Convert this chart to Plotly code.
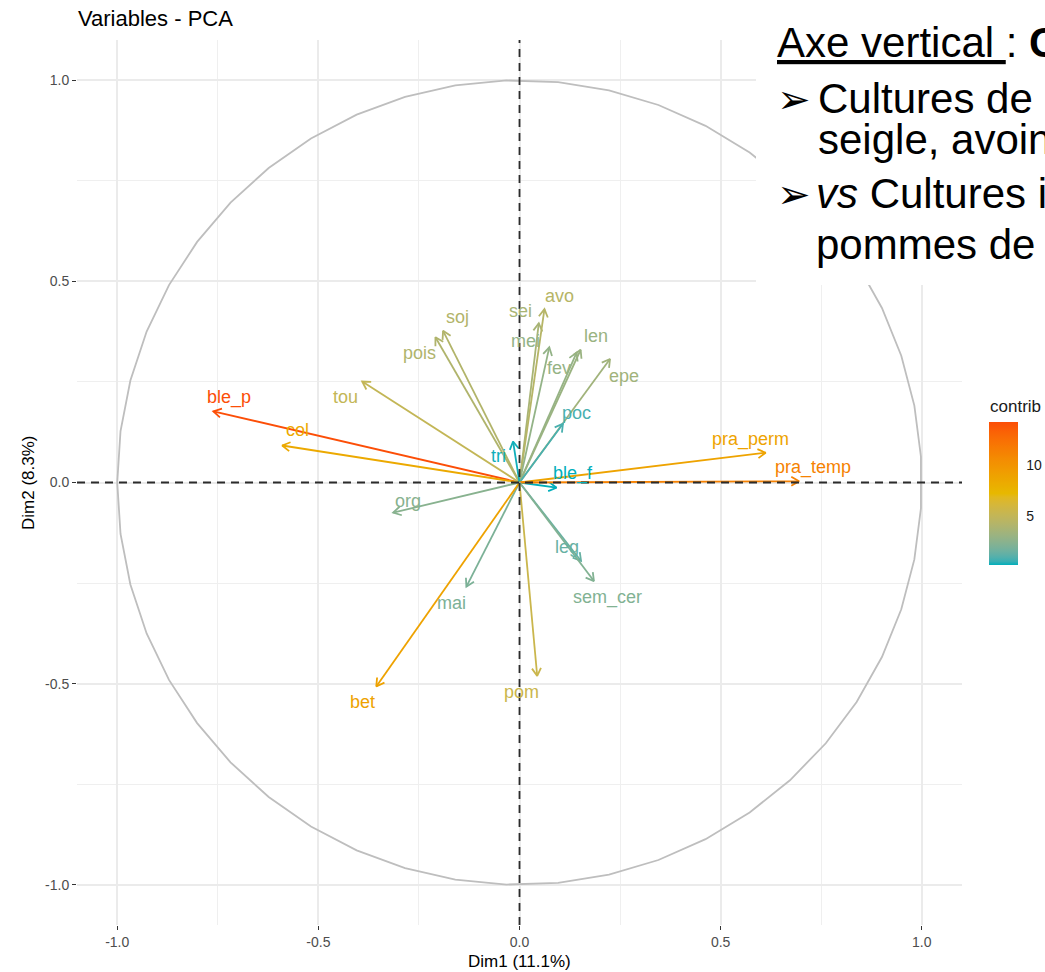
import math
import plotly.graph_objects as go

# ---- PCA variable coordinates (Dim1, Dim2) and contribution ----
variables = ["ble_p", "col", "tou", "pois", "soj", "sei", "avo", "mei", "fev", "len",
             "epe", "poc", "tri", "ble_f", "pra_perm", "pra_temp", "org", "mai",
             "bet", "pom", "leg", "sem_cer"]
dim1 = [-0.761, -0.590, -0.391, -0.209, -0.190, 0.048, 0.062, 0.074, 0.142, 0.152,
        0.225, 0.108, -0.016, 0.092, 0.612, 0.695, -0.314, -0.132,
        -0.356, 0.044, 0.153, 0.185]
dim2 = [0.177, 0.092, 0.251, 0.361, 0.377, 0.396, 0.431, 0.336, 0.323, 0.330,
        0.307, 0.146, 0.102, -0.013, 0.074, 0.003, -0.075, -0.259,
        -0.507, -0.481, -0.195, -0.245]
contrib = [14.3, 8.4, 5.1, 4.1, 4.2, 3.7, 4.4, 2.8, 2.9, 3.1,
           3.4, 0.8, 0.25, 0.2, 8.9, 11.3, 2.4, 2.0,
           9.0, 5.5, 1.4, 2.2]

axis_ticks = [-1.0, -0.5, 0.0, 0.5, 1.0]
axis_ticktext = ["-1.0", "-0.5", "0.0", "0.5", "1.0"]
legend_ticks = [5, 10]
gradient_cols = ["#00AFBB", "#E7B800", "#FC4E07"]

# label placement (pixel offsets from arrow tips, as produced by the repel layout)
label_dx = [16, 15, -17, -16, 14, -18, 15, -24, -18, 15, 14, 14, -15, 16, -15, 14, 15, -15, -14, -16, -14, 14]
label_dy = [-14, -15, 15, 16, -14, -12, -13, -6, 15, -14, 17, -11, 15, -14, -13, -14, -12, 16, 16, 16, -14, 16]

# ---- figure geometry ----
W, H = 1045, 972
ML, MR, MT, MB = 77, 83, 40, 47
PW, PH = W - ML - MR, H - MT - MB
RNG = 1.1
PX_PER_UNIT = PW / (2 * RNG)


def px_x(px):
    return (px - ML) / PW


def px_y(py):
    return (H - MB - py) / PH


# ---- colour interpolation in CIE Lab (as ggplot's gradientn) ----
def _hex_rgb(h):
    h = h.lstrip("#")
    return [int(h[i:i + 2], 16) / 255 for i in (0, 2, 4)]


def _to_lin(c):
    return c / 12.92 if c <= 0.04045 else ((c + 0.055) / 1.055) ** 2.4


def _from_lin(c):
    v = 12.92 * c if c <= 0.0031308 else 1.055 * c ** (1 / 2.4) - 0.055
    return min(1.0, max(0.0, v))


WX, WY, WZ = 0.95047, 1.0, 1.08883


def _f(t):
    return t ** (1 / 3) if t > 0.008856 else 7.787 * t + 16 / 116


def _finv(t):
    return t ** 3 if t ** 3 > 0.008856 else (t - 16 / 116) / 7.787


def hex_to_lab(h):
    r, g, b = [_to_lin(c) for c in _hex_rgb(h)]
    x = 0.4124 * r + 0.3576 * g + 0.1805 * b
    y = 0.2126 * r + 0.7152 * g + 0.0722 * b
    z = 0.0193 * r + 0.1192 * g + 0.9505 * b
    fx, fy, fz = _f(x / WX), _f(y / WY), _f(z / WZ)
    return (116 * fy - 16, 500 * (fx - fy), 200 * (fy - fz))


def lab_to_hex(lab):
    L, a, bb = lab
    fy = (L + 16) / 116
    fx = fy + a / 500
    fz = fy - bb / 200
    x, y, z = WX * _finv(fx), WY * _finv(fy), WZ * _finv(fz)
    r = 3.2406 * x - 1.5372 * y - 0.4986 * z
    g = -0.9689 * x + 1.8758 * y + 0.0415 * z
    b = 0.0557 * x - 0.2040 * y + 1.0570 * z
    return "#%02x%02x%02x" % tuple(round(_from_lin(c) * 255) for c in (r, g, b))


LABS = [hex_to_lab(c) for c in gradient_cols]


def grad_color(t):
    t = min(1.0, max(0.0, t))
    seg = min(int(t * 2), 1)
    u = t * 2 - seg
    a, b = LABS[seg], LABS[seg + 1]
    return lab_to_hex(tuple(a[i] + (b[i] - a[i]) * u for i in range(3)))


cmin, cmax = min(contrib), max(contrib)
colorscale = [[i / 40, grad_color(i / 40)] for i in range(41)]

FONT = "Liberation Sans, Arial, sans-serif"

fig = go.Figure()

# correlation circle (50-vertex polygon)
n_circ = 50
theta = [-math.pi + 2 * math.pi * k / (n_circ - 1) for k in range(n_circ)]
fig.add_trace(go.Scatter(
    x=[math.cos(t) for t in theta], y=[math.sin(t) for t in theta],
    mode="lines", line=dict(color="#BEBEBE", width=1.8),
    hoverinfo="skip", showlegend=False))

# arrows with open heads
head_len = 9 / PX_PER_UNIT
head_ang = math.radians(30)
annotations = []
for name, x, y, c, dx, dy in zip(variables, dim1, dim2, contrib, label_dx, label_dy):
    col = grad_color((c - cmin) / (cmax - cmin))
    ang = math.atan2(y, x)
    h1 = (x - head_len * math.cos(ang + head_ang), y - head_len * math.sin(ang + head_ang))
    h2 = (x - head_len * math.cos(ang - head_ang), y - head_len * math.sin(ang - head_ang))
    fig.add_trace(go.Scatter(
        x=[0, x, None, h1[0], x, h2[0]],
        y=[0, y, None, h1[1], y, h2[1]],
        mode="lines", line=dict(color=col, width=1.8),
        hoverinfo="skip", showlegend=False))
    annotations.append(dict(
        x=x, y=y, xref="x", yref="y", text=name, showarrow=False,
        xshift=dx, yshift=-dy, xanchor="center", yanchor="middle",
        font=dict(family=FONT, size=18, color=col)))

# colour scale legend
fig.add_trace(go.Scatter(
    x=dim1, y=dim2, mode="markers", hoverinfo="skip", showlegend=False,
    marker=dict(size=1, opacity=0, color=contrib, cmin=cmin, cmax=cmax,
                colorscale=colorscale, showscale=True,
                colorbar=dict(
                    xref="container", yref="container",
                    x=989 / W, xanchor="left", y=1 - 463 / H, yanchor="top",
                    thickness=29, thicknessmode="pixels",
                    len=143, lenmode="pixels",
                    xpad=0, ypad=0, outlinewidth=0,
                    tickvals=legend_ticks, ticktext=[str(v) for v in legend_ticks],
                    ticks="outside", ticklen=6, tickcolor="white", tickwidth=1,
                    tickfont=dict(family=FONT, size=14, color="#1a1a1a")))))

annotations.append(dict(
    x=px_x(988), y=px_y(406), xref="paper", yref="paper", text="contrib", showarrow=False,
    xanchor="left", yanchor="middle",
    font=dict(family=FONT, size=17, color="#1a1a1a")))

# axis titles and plot title
annotations.append(dict(
    x=0.5, y=px_y(961), xref="paper", yref="paper", text="Dim1 (11.1%)", showarrow=False,
    xanchor="center", yanchor="middle",
    font=dict(family=FONT, size=17, color="#000000")))
annotations.append(dict(
    x=px_x(28), y=px_y(483), xref="paper", yref="paper", text="Dim2 (8.3%)", showarrow=False,
    xanchor="center", yanchor="middle", textangle=-90,
    font=dict(family=FONT, size=17, color="#000000")))
annotations.append(dict(
    x=px_x(76), y=px_y(18), xref="paper", yref="paper", text="Variables - PCA", showarrow=False,
    xanchor="left", yanchor="middle",
    font=dict(family=FONT, size=22, color="#000000")))

# text panel laid over the upper-right corner
txt_font = dict(family=FONT, size=42, color="#000000")
bullet_font = dict(family="DejaVu Sans, sans-serif", size=40, color="#000000")
text_lines = [
    (775, 43, "<u>Axe vertical </u>: <b>C</b>", False),
    (816, 98, "Cultures de n", True),
    (816, 140, "seigle, avoin", False),
    (814, 193, "<i>vs</i> Cultures i", True),
    (814, 245, "pommes de", False),
]
for xl, yc, txt, bullet in text_lines:
    annotations.append(dict(
        x=px_x(xl), y=px_y(yc), xref="paper", yref="paper", text=txt, showarrow=False,
        xanchor="left", yanchor="middle", font=txt_font))
    if bullet:
        annotations.append(dict(
            x=px_x(775), y=px_y(yc + 1), xref="paper", yref="paper", text="\u27A2", showarrow=False,
            xanchor="left", yanchor="middle", font=bullet_font))

shapes = [
    # dashed reference axes
    dict(type="line", xref="paper", yref="y", x0=0, x1=1, y0=0, y1=0,
         line=dict(color="#2b2b2b", width=1.8, dash="8px,6px"), layer="above"),
    dict(type="line", xref="x", yref="paper", x0=0, x1=0, y0=0, y1=1,
         line=dict(color="#2b2b2b", width=1.8, dash="8px,6px"), layer="above"),
    # white panel behind the text
    dict(type="rect", xref="paper", yref="paper",
         x0=px_x(756), x1=px_x(W + 5), y0=px_y(285), y1=px_y(-5),
         fillcolor="white", line=dict(width=0), layer="above"),
]

axis_common = dict(
    range=[-RNG, RNG], tickvals=axis_ticks, ticktext=axis_ticktext,
    showgrid=True, gridcolor="#EBEBEB", gridwidth=1.7,
    zeroline=False, showline=False,
    ticks="outside", ticklen=4, tickwidth=1.3, tickcolor="#333333",
    tickfont=dict(family=FONT, size=14, color="#4D4D4D"),
    minor=dict(dtick=0.25, tick0=0, showgrid=True, gridcolor="#EFEFEF", gridwidth=0.9, ticks=""),
    fixedrange=True,
)

fig.update_layout(
    width=W, height=H,
    margin=dict(l=ML, r=MR, t=MT, b=MB, autoexpand=False),
    paper_bgcolor="white", plot_bgcolor="white",
    xaxis=dict(axis_common),
    yaxis=dict(axis_common),
    annotations=annotations,
    shapes=shapes,
    showlegend=False,
)

fig.write_html("out.html")
